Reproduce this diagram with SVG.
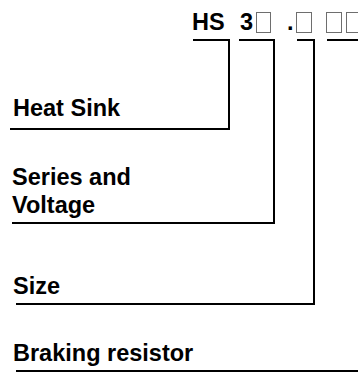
<svg xmlns="http://www.w3.org/2000/svg" width="358" height="372" viewBox="0 0 358 372">
<style>
  .lbl { font-family: "Liberation Sans", Arial, Helvetica, sans-serif; font-weight: bold; font-size: 23.5px; fill: #000; }
  .conn { fill: none; stroke: #000; stroke-width: 2; stroke-linejoin: miter; stroke-linecap: butt; }
  .slot { fill: none; stroke: #6e6e6e; stroke-width: 1; }
</style>
<rect width="358" height="372" fill="#fff"/>
<g id="code">
  <text class="lbl" x="192" y="30">HS<tspan x="240">3</tspan><tspan x="287">.</tspan></text>
  <rect class="slot" x="256.5" y="12.5" width="14" height="20"/>
  <rect class="slot" x="296.5" y="12.5" width="15" height="20"/>
  <rect class="slot" x="326.5" y="12.5" width="15" height="20"/>
  <rect class="slot" x="346.5" y="12.5" width="15" height="20"/>
</g>
<g id="connectors">
  <path class="conn" d="M193,40 H229 V129 H10"/>
  <path class="conn" d="M239,40 H274 V223 H12"/>
  <path class="conn" d="M297,40 H314 V304 H16"/>
  <path class="conn" d="M327,40 H362 V371 H16"/>
</g>
<g id="heat-sink">
  <text class="lbl" x="13" y="116">Heat Sink</text>
</g>
<g id="series-voltage">
  <text class="lbl" x="12" y="185">Series and</text>
  <text class="lbl" x="12" y="213">Voltage</text>
</g>
<g id="size">
  <text class="lbl" x="13" y="294">Size</text>
</g>
<g id="braking-resistor">
  <text class="lbl" x="13" y="361">Braking resistor</text>
</g>
</svg>
